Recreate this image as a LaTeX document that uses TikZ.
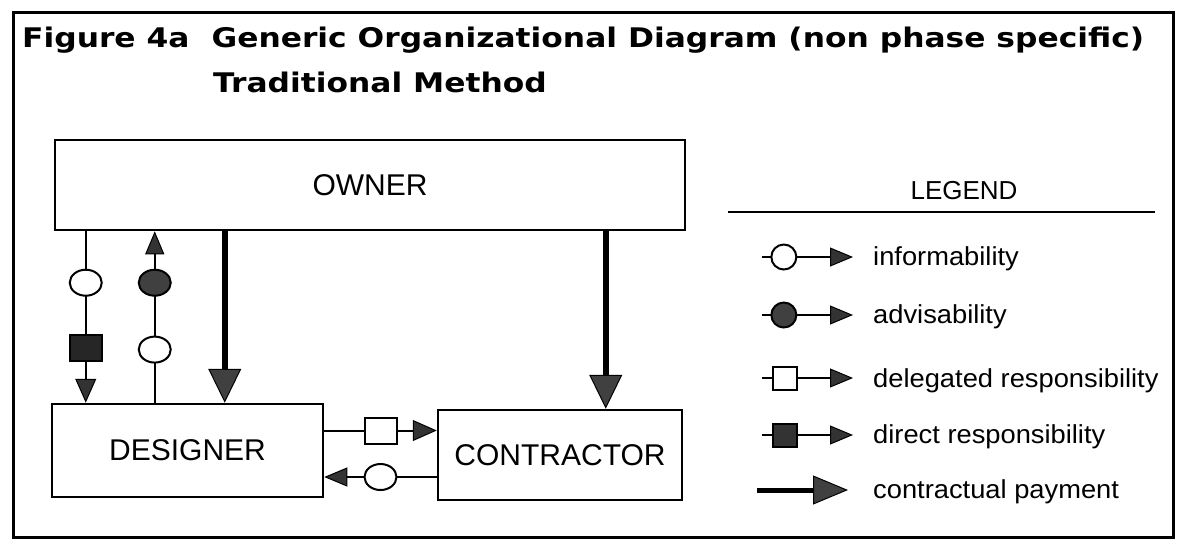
\documentclass[tikz,border=0pt]{standalone}
\usepackage{fontspec}
\usetikzlibrary{arrows.meta,calc,shapes.geometric}
\newfontfamily\titlefont[FakeStretch=1.16]{DejaVu Sans}
\newfontfamily\boxfont{Liberation Sans}
\newfontfamily\legfont[FakeStretch=1.05]{Liberation Sans}

\begin{document}
\begin{tikzpicture}[x=1pt,y=-1pt]
\tikzset{party/.style = {shape=rectangle,draw,line width=2.5pt,inner sep=0pt,font=\boxfont\fontsize{30}{36}\selectfont}}
\tikzset{link/.style = {line width=2pt}}
\tikzset{pay/.style = {line width=6pt}}
\tikzset{openoval/.style = {shape=ellipse,draw,fill=white,line width=2pt,minimum width=32pt,minimum height=26pt,inner sep=0pt}}
\tikzset{fulloval/.style = {openoval,fill=black!75}}
\tikzset{opensq/.style = {shape=rectangle,draw,fill=white,line width=2pt,minimum width=32pt,minimum height=26pt,inner sep=0pt}}
\tikzset{fullsq/.style = {opensq,fill=black!85}}
\tikzset{legcirc/.style = {shape=circle,draw,fill=white,line width=2pt,minimum size=25pt,inner sep=0pt}}
\tikzset{legsq/.style = {shape=rectangle,draw,fill=white,line width=2pt,minimum width=24pt,minimum height=23pt,inner sep=0pt}}
\tikzset{tip/.style = {-{Triangle[length=24pt,width=21pt,line width=1pt,fill=black!80]}}}
\tikzset{smalltip/.style = {-{Triangle[length=23pt,width=19pt,line width=1pt,fill=black!80]}}}
\tikzset{bigtip/.style = {-{Triangle[length=34pt,width=33pt,line width=1pt,fill=black!75]}}}
\tikzset{legtext/.style = {anchor=base west,inner sep=0pt,font=\legfont\fontsize{26}{30}\selectfont}}
\useasboundingbox (0,0) rectangle (1178,547);
\draw[line width=3pt] (13,12) rectangle (1173,537);

% title
\node[anchor=base west,inner sep=0pt,font=\titlefont\bfseries\fontsize{27}{32}\selectfont] (title) at (22,47) {Figure 4a\hspace{22pt}Generic Organizational Diagram (non phase specific)};
\node[anchor=base west,inner sep=0pt,font=\titlefont\bfseries\fontsize{27}{32}\selectfont] (method) at (213,92) {Traditional Method};

% parties
\node[party,minimum width=630pt,minimum height=90pt] (owner) at (370,185) {OWNER};
\node[party,minimum width=271pt,minimum height=93pt] (designer) at (187.5,450.5) {DESIGNER};
\node[party,minimum width=244pt,minimum height=90pt] (contractor) at (560,455) {CONTRACTOR};

\coordinate (oa) at ([xshift=32pt]owner.south west);
\coordinate (ob) at ([xshift=101pt]owner.south west);
\coordinate (oc) at ([xshift=171pt]owner.south west);
\coordinate (od) at ([xshift=552pt]owner.south west);

\draw[link,tip] (oa) -- node[pos=0.30,openoval] {} node[pos=0.68,fullsq] {} (oa |- designer.north);
\draw[link,smalltip] (ob |- designer.north) -- node[pos=0.31,openoval] {} node[pos=0.70,fulloval] {} (ob);
\draw[pay,bigtip] (oc) -- (oc |- designer.north);
\draw[pay,bigtip] (od) -- (od |- contractor.north);

\draw[link,tip] ([yshift=20pt]designer.east) -- node[opensq] {} ([yshift=20pt]designer.east -| contractor.west);
\draw[link,smalltip] ([yshift=-22pt]contractor.west) -- node[openoval] {} ([yshift=-22pt]contractor.west -| designer.east);

% legend
\node[font=\boxfont\fontsize{26}{30}\selectfont] (legend) at (964,191) {LEGEND};
\draw[line width=2pt] (728,212) -- (1155,212);

\node[legtext] (inf) at (873,265) {informability};
\node[legtext] (adv) at (873,323) {advisability};
\node[legtext] (del) at (873,387) {delegated responsibility};
\node[legtext] (dir) at (873,443) {direct responsibility};
\node[legtext] (pay) at (873,498) {contractual payment};

\coordinate (inf0) at (762,257);
\coordinate (inf1) at (853,257);
\coordinate (adv0) at (762,315);
\coordinate (adv1) at (853,315);
\coordinate (del0) at (762,378);
\coordinate (del1) at (853,378);
\coordinate (dir0) at (762,435);
\coordinate (dir1) at (853,435);
\coordinate (pay0) at (757,490);
\coordinate (pay1) at (848,490);

\draw[link,smalltip] (inf0) -- node[pos=0.24,legcirc] {} (inf1);
\draw[link,smalltip] (adv0) -- node[pos=0.24,legcirc,fill=black!75] {} (adv1);
\draw[link,smalltip] (del0) -- node[pos=0.25,legsq] {} (del1);
\draw[link,smalltip] (dir0) -- node[pos=0.25,legsq,fill=black!80] {} (dir1);
\draw[line width=5pt,-{Triangle[length=35pt,width=29pt,line width=1pt,fill=black!75]}] (pay0) -- (pay1);

\end{tikzpicture}
\end{document}
